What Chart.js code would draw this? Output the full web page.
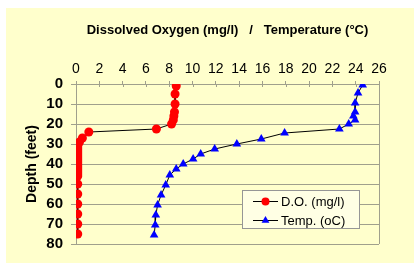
<!DOCTYPE html>
<html>
<head>
<meta charset="utf-8">
<script src="https://cdn.jsdelivr.net/npm/chart.js@4/dist/chart.umd.min.js"></script>
<style>
  html, body { margin: 0; padding: 0; background: #fff; }
  #wrap { width: 414px; height: 263px; }
</style>
</head>
<body>
<div id="wrap"><canvas id="grafico" width="414" height="263"></canvas></div>
<script>
"use strict";

// dati: profondità (piedi) e valori
const doDepth = [1, 5, 10, 14, 16, 18, 20, 22.5, 24, 27, 29,
    30, 31, 32, 33, 34, 35, 36, 37, 38, 39, 40, 41, 42, 43, 44, 45, 46,
    50, 55, 60, 65, 70, 75];
const doValues = [8.6, 8.5, 8.5, 8.45, 8.4, 8.35, 8.2, 6.9, 1.1, 0.55, 0.3,
    0.15, 0.15, 0.15, 0.15, 0.15, 0.15, 0.15, 0.15, 0.15, 0.15, 0.15, 0.15, 0.15, 0.15, 0.15, 0.15, 0.15,
    0.15, 0.15, 0.15, 0.15, 0.15, 0.15];

const tempDepth = [0.5, 4.5, 9.5, 14, 16, 18, 20, 22.5, 24.5, 27.5, 30, 32.5, 35, 37.5,
    40, 42.5, 45.5, 50.5, 55.5, 60.5, 65.5, 70.5, 75.5];
const tempValues = [24.6, 24.2, 23.95, 23.95, 23.8, 23.95, 23.4, 22.6, 17.9, 15.9, 13.8, 11.9, 10.7, 10.05,
    9.2, 8.6, 8.05, 7.7, 7.3, 7.0, 6.85, 6.8, 6.7];

const seriesLabels = ["D.O. (mg/l)", "Temp. (oC)"];
const xTitle = "Dissolved Oxygen (mg/l)   /   Temperature (°C)";
const yTitle = "Depth (feet)";

const SFONDO = "rgb(255,255,204)";
const GRIGLIA = "rgb(160,160,140)";

// sfondo giallo con piccolo margine bianco, bordo destro, tacche e legenda
const pluginSfondo = {
    id: "sfondo",
    beforeDraw(chart) {
        const c = chart.ctx;
        c.save();
        c.fillStyle = "#fff";
        c.fillRect(0, 0, chart.width, chart.height);
        c.fillStyle = SFONDO;
        c.fillRect(6, 8, chart.width - 6, chart.height - 8);
        c.restore();
    },
    afterDraw(chart) {
        const c = chart.ctx;
        const a = chart.chartArea;
        const sx = chart.scales.x;
        c.save();
        c.strokeStyle = GRIGLIA;
        c.lineWidth = 1;
        // bordo destro
        c.beginPath();
        c.moveTo(Math.round(a.right) + 0.5, a.top);
        c.lineTo(Math.round(a.right) + 0.5, a.bottom);
        c.stroke();
        // tacche interne asse x
        sx.ticks.forEach(t => {
            const px = Math.round(sx.getPixelForValue(t.value)) + 0.5;
            c.beginPath();
            c.moveTo(px, a.top);
            c.lineTo(px, a.top + 3);
            c.stroke();
        });
        // legenda
        const lx = 242, ly = 190, lw = 117, lh = 38;
        c.fillStyle = "rgb(255,255,228)";
        c.fillRect(lx, ly, lw, lh);
        c.strokeStyle = "rgb(150,150,150)";
        c.strokeRect(lx + 0.5, ly + 0.5, lw, lh);
        const voci = [
            { y: ly + 11, colore: "#ff0000", stile: "circle", r: 4 },
            { y: ly + 30, colore: "#0000ff", stile: "triangle", r: 4.5 }
        ];
        c.font = "13px 'Liberation Sans', Arial, sans-serif";
        c.textBaseline = "middle";
        voci.forEach((v, i) => {
            c.strokeStyle = "#000";
            c.beginPath();
            c.moveTo(253, v.y + 0.5);
            c.lineTo(278, v.y + 0.5);
            c.stroke();
            c.fillStyle = v.colore;
            Chart.helpers.drawPoint(c, { pointStyle: v.stile, radius: v.r, borderWidth: 0 }, 265.5, v.y + 0.5);
            c.fillStyle = "#000";
            c.fillText(seriesLabels[i], 281, v.y + 1);
        });
        c.restore();
    }
};

const punti = (xs, ys) => xs.map((v, i) => ({ x: v, y: ys[i] }));

new Chart(document.getElementById("grafico"), {
    type: "scatter",
    data: {
        datasets: [
            {
                label: seriesLabels[0],
                data: punti(doValues, doDepth),
                showLine: true,
                borderColor: "#000",
                borderWidth: 1,
                pointStyle: "circle",
                pointRadius: 4.5,
                pointBorderWidth: 0,
                pointBackgroundColor: "#ff0000",
                pointBorderColor: "#ff0000"
            },
            {
                label: seriesLabels[1],
                data: punti(tempValues, tempDepth),
                showLine: true,
                borderColor: "#000",
                borderWidth: 1,
                pointStyle: "triangle",
                pointRadius: 5,
                pointBorderWidth: 0,
                pointBackgroundColor: "#0000ff",
                pointBorderColor: "#0000ff"
            }
        ]
    },
    options: {
        responsive: false,
        animation: false,
        layout: { padding: { left: 0, top: 0, right: 35, bottom: 19 } },
        plugins: {
            legend: { display: false },
            tooltip: { enabled: false }
        },
        scales: {
            x: {
                type: "linear",
                position: "top",
                min: 0,
                max: 26,
                ticks: {
                    stepSize: 2,
                    autoSkip: false,
                    maxRotation: 0,
                    color: "#000",
                    padding: 3,
                    font: { family: "'Liberation Sans', Arial", size: 14 }
                },
                grid: { drawOnChartArea: false, drawTicks: true, tickLength: 3, color: GRIGLIA },
                border: { color: GRIGLIA },
                title: {
                    display: true,
                    text: xTitle,
                    color: "#000",
                    padding: { top: 23, bottom: 0 },
                    font: { family: "'Liberation Sans', Arial", size: 13, weight: "bold" }
                },
                afterFit: s => { s.height = 84; }
            },
            y: {
                type: "linear",
                reverse: true,
                min: 0,
                max: 80,
                ticks: {
                    stepSize: 10,
                    autoSkip: false,
                    color: "#000",
                    padding: 8,
                    font: { family: "'Liberation Sans', Arial", size: 15, weight: "bold" }
                },
                grid: { color: GRIGLIA, tickLength: 5 },
                border: { color: GRIGLIA },
                title: {
                    display: true,
                    text: yTitle,
                    color: "#000",
                    padding: { top: 24, bottom: 0 },
                    font: { family: "'Liberation Sans', Arial", size: 14, weight: "bold" }
                },
                afterFit: s => { s.width = 76; }
            }
        }
    },
    plugins: [pluginSfondo]
});
</script>
</body>
</html>
